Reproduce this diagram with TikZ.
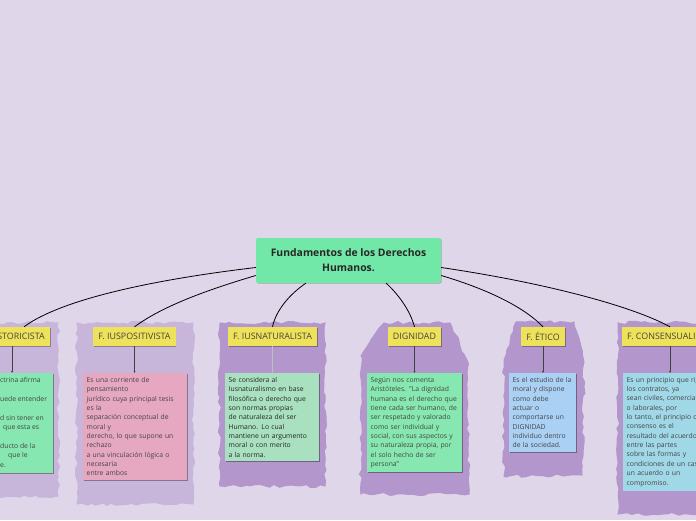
\documentclass[tikz,border=0pt]{standalone}
\usepackage{fontspec}
\setmainfont{Open Sans}
\usetikzlibrary{decorations.pathmorphing,arrows.meta,shadows}
\definecolor{bg}{HTML}{E0D6EA}
\definecolor{cloudL}{HTML}{C8B6DA}
\definecolor{cloudD}{HTML}{B296CC}
\definecolor{cgreen}{HTML}{72E8A8}
\definecolor{dgreen}{HTML}{86E8B0}
\definecolor{dpink}{HTML}{E6A8C0}
\definecolor{dmint}{HTML}{A8E0C0}
\definecolor{dblue}{HTML}{AAD0F4}
\definecolor{dcyan}{HTML}{A0D8E8}
\definecolor{lyellow}{HTML}{EEE25A}
\definecolor{txt}{HTML}{444444}
\tikzset{
  cloudy/.style={fill=#1, draw=#1, line width=1pt, decorate,
    decoration={random steps, segment length=5pt, amplitude=1.6pt}},
  central/.style={fill=cgreen, rounded corners=2pt, minimum width=185pt, minimum height=45pt,
    align=center, font=\fontsize{10.4}{15}\selectfont\bfseries, text=black!85,
    drop shadow={shadow xshift=0.6pt, shadow yshift=-0.6pt, opacity=.25, fill=black}},
  lab/.style={fill=lyellow, minimum height=19pt, inner xsep=5pt, inner ysep=0pt,
    font=\fontsize{8.9}{10}\selectfont, text=txt,
    drop shadow={shadow xshift=0.8pt, shadow yshift=-0.8pt, opacity=.3, fill=black}},
  detail/.style={fill=#1, anchor=north west, align=left, inner xsep=3.5pt, inner ysep=4pt,
    font=\fontsize{6.8}{9.35}\selectfont, text=txt,
    drop shadow={shadow xshift=0.8pt, shadow yshift=-0.8pt, opacity=.35, fill=black}},
  link/.style={black, line width=0.8pt},
  sub/.style={black!75, line width=0.7pt, -{Latex[length=2pt,width=2pt]}},
}
\begin{document}
\begin{tikzpicture}[x=1pt,y=-1pt]
\pgfmathsetseed{11}
\useasboundingbox (0,0) rectangle (696,520);
\clip (0,0) rectangle (696,520);
\fill[bg] (0,0) rectangle (696,520);

% cloud backgrounds
\path[cloudy=cloudL] (-60,323) rectangle (58,496);
\path[cloudy=cloudL] (77,323) rectangle (193,504);
\path[cloudy=cloudD] (220,323) rectangle (325,486);
\path[cloudy=cloudD] (384,323) -- (450,323) -- (467,360) -- (469,494) -- (361,494) -- (361,356) -- cycle;
\path[cloudy=cloudD] (516,322) -- (574,322) -- (584,362) -- (582,475) -- (504,476) -- (504,360) -- cycle;
\path[cloudy=cloudD] (618,323) rectangle (710,514);

% central node
\node[central] (c) at (348.5,260.5) {Fundamentos de los Derechos\\Humanos.};

% labels
\node[lab, anchor=east] (hist) at (50,336.5) {F. HISTORICISTA};
\node[lab] (iusp) at (134.5,336.5) {F. IUSPOSITIVISTA};
\node[lab] (iusn) at (272.5,336.5) {F. IUSNATURALISTA};
\node[lab] (dign) at (414.5,336.5) {DIGNIDAD};
\node[lab] (etic) at (543,336.5) {F. ÉTICO};
\node[lab, anchor=west] (cons) at (622,336.5) {F. CONSENSUALISMO};

% detail boxes
\node[detail=dgreen, minimum width=110pt, minimum height=100pt, anchor=north east] (histD) at (53,373) {};
\node[anchor=north west, align=left, inner sep=0pt, font=\fontsize{6.8}{9.35}\selectfont, text=txt] (histT) at (0,377.5)
  {ctrina afirma\\ \strut\\uede entender\\ \strut\\d sin tener en\\\hspace*{3pt}que esta es\\ \strut\\ducto de la\\\hspace*{8pt}que le\\e.};
\node[detail=dpink, text width=97pt] (iuspD) at (83,373)
  {Es una corriente de\\pensamiento\\jurídico cuya principal tesis\\es la\\separación conceptual de\\moral y\\derecho, lo que supone un\\rechazo\\a una vinculación lógica o\\necesaria\\entre ambos};
\node[detail=dmint, text width=87pt, text=black!85] (iusnD) at (225,373)
  {Se considera al\\Iusnaturalismo en base\\filosófica o derecho que\\son normas propias\\de naturaleza del ser\\Humano. Lo cual\\mantiene un argumento\\moral o con merito\\a la norma.};
\node[detail=dgreen, text width=88pt] (dignD) at (367,373)
  {Según nos comenta\\Aristóteles. "La dignidad\\humana es el derecho que\\tiene cada ser humano, de\\ser respetado y valorado\\como ser individual y\\social, con sus aspectos y\\su naturaleza propia, por\\el solo hecho de ser\\persona"};
\node[detail=dblue, text width=60pt] (eticD) at (509,373)
  {Es el estudio de la\\moral y dispone\\como debe\\actuar o\\comportarse un\\DIGNIDAD\\individuo dentro\\de la sociedad.};
\node[detail=dcyan, text width=97pt] (consD) at (623,373)
  {Es un principio que rige\\los contratos, ya\\sean civiles, comerciales\\o laborales, por\\lo tanto, el principio de\\consenso es el\\resultado del acuerdo\\entre las partes\\sobre las formas y\\condiciones de un caso,\\un acuerdo o un\\compromiso.};

% connectors from central node
\draw[link] ([yshift=-7pt]c.west) .. controls (150,280) and (60,300) .. ([xshift=-26pt]hist.north east);
\draw[link] ([yshift=-15pt]c.west) .. controls (200,292) and (160,308) .. (iusp.north);
\draw[link] ([xshift=50pt]c.south west) .. controls (290,294) and (276,310) .. (iusn.north);
\draw[link] ([xshift=-55pt]c.south east) .. controls (398,294) and (410,310) .. (dign.north);
\draw[link] ([yshift=-15pt]c.east) .. controls (490,290) and (525,308) .. (etic.north);
\draw[link] ([yshift=-7pt]c.east) .. controls (540,282) and (630,305) .. ([xshift=48pt]cons.north west);

% connectors label -> detail
\draw[sub] ([xshift=-38pt]hist.south east) -- ([xshift=-41pt]histD.north east);
\draw[sub] (iusp.south) -- (iusp.south |- iuspD.north);
\draw[sub, draw=black!25] (iusn.south) -- (iusn.south |- iusnD.north);
\draw[sub] (dign.south) -- (dign.south |- dignD.north);
\draw[sub] (etic.south) -- (etic.south |- eticD.north);
\draw[sub] ([xshift=48pt]cons.south west) -- ([xshift=48pt]cons.south west |- consD.north);
\end{tikzpicture}
\end{document}
